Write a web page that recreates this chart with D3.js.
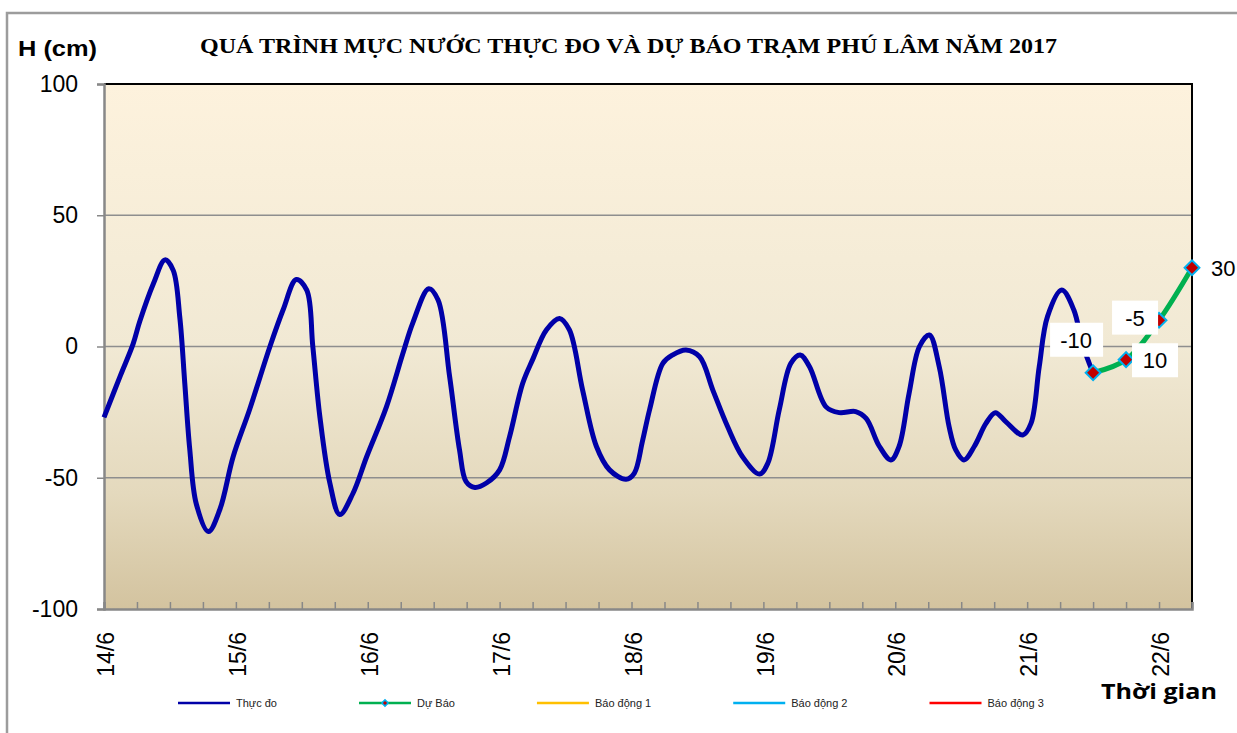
<!DOCTYPE html>
<html>
<head>
<meta charset="utf-8">
<script src="https://cdn.jsdelivr.net/npm/d3@7"></script>
<style>
  body { margin: 0; background: #fff; }
  svg { display: block; font-family: "Liberation Sans", Arial, sans-serif; }
</style>
</head>
<body>
<svg id="chart" width="1237" height="733"></svg>
<script>
// observed water level (cm), hours counted from 14/6 00:00
var obsHours = [0, 3, 5.3, 6.5, 9, 11.1, 12.6, 13.8, 14.7, 15.6, 16.8, 19, 21.1, 23.5, 26.5, 30.2, 32.6, 35, 36.9, 38,
  39.3, 41.1, 42.9, 45.3, 47.8, 51.4, 54.4, 56.2, 59.1, 60.8, 62.9, 64.7, 65.9, 67.5, 69.6, 72, 73.8, 76.2, 78, 80.5,
  82.9, 84.7, 87.1, 89.6, 92, 95, 96.5, 98, 99.3, 101.7, 103.5, 105.9, 108.4, 110.8, 113.5, 116.2, 119.3, 120.8, 122.9, 125,
  126.7, 128.4, 131.4, 133.8, 136.8, 138.7, 141.1, 143.2, 144.7, 146.5, 148.4, 150.2, 152, 153.8, 155, 156.5, 158.4, 160.5, 162.2, 164.1,
  167.2, 168.7, 170.2, 171.7, 174.3, 176.5, 178, 179.3, 180];
var obsLevel = [-27, -11, 1, 9.5, 24, 33, 29, 11, -14, -39, -60, -70.5, -62, -42, -24, 0, 14, 25.5, 21.5, 0,
  -27, -52, -64, -56, -42, -23, -2.6, 9, 22, 17.7, -11.5, -39.4, -51.5, -53.7, -52, -47, -34.4, -14, -5, 6.3,
  10.7, 6.3, -16.6, -38, -47, -50.6, -48.3, -36, -24, -6.4, -3.2, -1.3, -3.9, -16.6, -30.6, -42, -48.6, -44.5, -24, -6.4,
  -3.2, -7.7, -23, -25.2, -24.8, -27.4, -38, -43.2, -38, -18, 0, 4.4, -7.7, -30.6, -39.4, -43.2, -38, -29.3, -25.2, -28.6,
  -33.7, -29.3, -7.7, 11.4, 21.5, 13.9, 1.2, -6.4, -10];

// forecast
var fcHours = [180, 186, 192, 198];
var fcLevel = [-10, -5, 10, 30];

var dayLabels = ['14/6', '15/6', '16/6', '17/6', '18/6', '19/6', '20/6', '21/6', '22/6'];
var yTicks = [-100, -50, 0, 50, 100];
var legendNames = ['Thực đo', 'Dự Báo', 'Báo động 1', 'Báo động 2', 'Báo động 3'];
var legendColors = ['#0000a8', '#00b050', '#ffc000', '#00b0f0', '#ff0000'];

var svg = d3.select('#chart');
var plotLeft = 104, plotRight = 1192, plotTop = 84, plotBottom = 609;

var x = d3.scaleLinear().domain([0, 198]).range([plotLeft, plotRight]),
    y = d3.scaleLinear().domain([-100, 100]).range([plotBottom, plotTop]);

// outer frame
svg.append('path')
   .attr('d', 'M7,733 L7,13 L1237,13')
   .attr('fill', 'none')
   .attr('stroke', '#9c9c9c')
   .attr('stroke-width', 2.5);

// plot background
var grad = svg.append('defs').append('linearGradient')
              .attr('id', 'bg').attr('x1', 0).attr('y1', 0).attr('x2', 0).attr('y2', 1);
grad.append('stop').attr('offset', 0).attr('stop-color', '#fdf2dd');
grad.append('stop').attr('offset', 0.5).attr('stop-color', '#f1e9d4');
grad.append('stop').attr('offset', 0.78).attr('stop-color', '#e4d9bd');
grad.append('stop').attr('offset', 1).attr('stop-color', '#d3c39f');

svg.append('rect')
   .attr('x', plotLeft).attr('y', plotTop)
   .attr('width', plotRight - plotLeft).attr('height', plotBottom - plotTop)
   .attr('fill', 'url(#bg)');

// gridlines
svg.append('g')
   .selectAll('line')
   .data([-50, 0, 50])
   .enter()
   .append('line')
   .attr('x1', plotLeft).attr('x2', plotRight)
   .attr('y1', function(d) { return y(d); })
   .attr('y2', function(d) { return y(d); })
   .attr('stroke', '#8e8e8e')
   .attr('stroke-width', 1.5);

// top and right border
svg.append('path')
   .attr('d', 'M' + plotLeft + ',' + plotTop + ' L' + plotRight + ',' + plotTop + ' L' + plotRight + ',' + plotBottom)
   .attr('fill', 'none')
   .attr('stroke', '#000')
   .attr('stroke-width', 2);

// y axis
var yAxis = d3.axisLeft(y).tickValues(yTicks).tickSize(7).tickPadding(19).tickFormat(function(d) { return String(d); });
var gy = svg.append('g').attr('transform', 'translate(' + plotLeft + ',0)').call(yAxis);
gy.select('.domain').attr('stroke', '#888').attr('stroke-width', 2.5);
gy.selectAll('.tick line').attr('stroke', '#888').attr('stroke-width', 1.5);
gy.selectAll('.tick text')
  .attr('font-size', 23)
  .attr('font-family', '"Liberation Sans", Arial, sans-serif')
  .attr('fill', '#000');

// x axis, ticks every 6 hours, label each day
var xAxis = d3.axisBottom(x)
              .tickValues(d3.range(0, 199, 6))
              .tickSize(-7)
              .tickFormat(function(d) { return d % 24 === 0 ? dayLabels[d / 24] : ''; });
var gx = svg.append('g').attr('transform', 'translate(0,' + plotBottom + ')').call(xAxis);
gx.select('.domain').attr('stroke', '#888').attr('stroke-width', 2.5);
gx.selectAll('.tick line').attr('stroke', '#888').attr('stroke-width', 1.5);
gx.selectAll('.tick text')
  .attr('y', 0)
  .attr('x', -23)
  .attr('dy', '0.42em')
  .attr('transform', 'rotate(-90)')
  .style('text-anchor', 'end')
  .attr('font-size', 23)
  .attr('font-family', '"Liberation Sans", Arial, sans-serif')
  .attr('fill', '#000');

// observed line
var line = d3.line()
             .x(function(d) { return x(d[0]); })
             .y(function(d) { return y(d[1]); })
             .curve(d3.curveCatmullRom.alpha(0.5));

svg.append('path')
   .datum(d3.zip(obsHours, obsLevel))
   .attr('d', line)
   .attr('fill', 'none')
   .attr('stroke', legendColors[0])
   .attr('stroke-width', 5)
   .attr('stroke-linejoin', 'round');

// forecast line
var fc = d3.zip(fcHours, fcLevel);
svg.append('path')
   .datum(fc)
   .attr('d', line)
   .attr('fill', 'none')
   .attr('stroke', legendColors[1])
   .attr('stroke-width', 5);

var diamond = d3.symbol().type(d3.symbolSquare).size(110);
svg.append('g')
   .selectAll('path')
   .data(fc)
   .enter()
   .append('path')
   .attr('d', diamond)
   .attr('transform', function(d) { return 'translate(' + x(d[0]) + ',' + y(d[1]) + ') rotate(45)'; })
   .attr('fill', '#c00000')
   .attr('stroke', '#00b0f0')
   .attr('stroke-width', 2);

// data labels (moved by hand in the original)
var labelOffsets = [[-17, -33], [9, -42], [-4, 40], [19, 0]];
var labels = svg.append('g')
                .selectAll('g')
                .data(fc)
                .enter()
                .append('g')
                .attr('transform', function(d, i) {
                  return 'translate(' + (x(d[0]) + labelOffsets[i][0]) + ',' + (y(d[1]) + labelOffsets[i][1]) + ')';
                });

labels.append('rect')
      .attr('x', function(d, i) { return i === 3 ? -4 : (String(d[1]).length > 2 ? -26 : -23); })
      .attr('y', -17)
      .attr('width', function(d, i) { return i === 3 ? 44 : (String(d[1]).length > 2 ? 53 : 46); })
      .attr('height', 34)
      .attr('fill', '#fff');

labels.append('text')
      .attr('dy', '0.36em')
      .attr('text-anchor', function(d, i) { return i === 3 ? 'start' : 'middle'; })
      .attr('font-size', 22)
      .attr('fill', '#000')
      .text(function(d) { return String(d[1]); });

// titles
svg.append('text')
   .attr('x', 200).attr('y', 53)
   .attr('textLength', 857)
   .attr('lengthAdjust', 'spacingAndGlyphs')
   .attr('font-family', '"Liberation Serif", "Times New Roman", serif')
   .attr('font-weight', 'bold')
   .attr('font-size', 22)
   .text('QUÁ TRÌNH MỰC NƯỚC THỰC ĐO VÀ DỰ BÁO TRẠM  PHÚ LÂM NĂM 2017');

svg.append('text')
   .attr('x', 18).attr('y', 56)
   .attr('textLength', 79)
   .attr('lengthAdjust', 'spacingAndGlyphs')
   .attr('font-weight', 'bold')
   .attr('font-size', 22)
   .text('H (cm)');

svg.append('text')
   .attr('x', 1101).attr('y', 699)
   .attr('textLength', 116)
   .attr('lengthAdjust', 'spacingAndGlyphs')
   .attr('font-family', '"Open Sans", Lato, sans-serif')
   .attr('font-weight', 'bold')
   .attr('font-size', 21)
   .text('Thời gian');

// legend
var legendY = 703, lx = 178;
legendNames.forEach(function(name, i) {
  var g = svg.append('g').attr('transform', 'translate(' + lx + ',' + legendY + ')');
  g.append('line')
   .attr('x1', 0).attr('x2', 52)
   .attr('stroke', legendColors[i])
   .attr('stroke-width', 2.5);
  if (i === 1) {
    g.append('path')
     .attr('d', d3.symbol().type(d3.symbolSquare).size(20))
     .attr('transform', 'translate(26,0) rotate(45)')
     .attr('fill', '#c00000')
     .attr('stroke', '#00b0f0')
     .attr('stroke-width', 1.5);
  }
  var t = g.append('text')
           .attr('x', 58)
           .attr('dy', '0.35em')
           .attr('font-size', 11)
           .attr('fill', '#222')
           .text(name);
  lx += 58 + t.node().getComputedTextLength() + 82;
});
</script>
</body>
</html>
